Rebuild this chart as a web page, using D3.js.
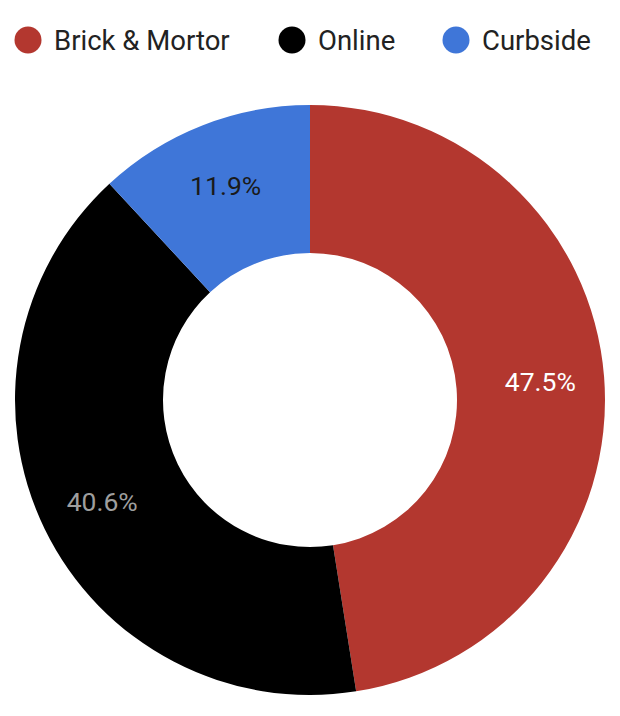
<!DOCTYPE html>
<html><head><meta charset="utf-8">
<script src="https://cdn.jsdelivr.net/npm/d3@7"></script>
<style>html,body{margin:0;padding:0;background:#fff;}</style>
</head><body>
<svg id="chart" width="620" height="716"></svg>
<script>
const categories = ["Brick & Mortor", "Online", "Curbside"];
const values = [47.5, 40.6, 11.9];
const colors = ["#b3372f", "#000000", "#3f76d8"];
const labelColors = ["#ffffff", "#9e9e9e", "#1a1a1a"];

const svg = d3.select("#chart");
const cx = 310, cy = 400, outerR = 295, innerR = 147, labelR = 231;

const pie = d3.pie().sort(null).value(d => d.value);
const data = pie(categories.map((c, i) => ({cat: c, value: values[i], i})));
const arc = d3.arc().innerRadius(innerR).outerRadius(outerR);
const labelArc = d3.arc().innerRadius(labelR).outerRadius(labelR);

const g = svg.append("g").attr("transform", `translate(${cx},${cy})`);
g.selectAll("path").data(data).enter().append("path")
  .attr("d", arc).attr("fill", d => colors[d.data.i]);

g.selectAll("text").data(data).enter().append("text")
  .attr("transform", d => `translate(${labelArc.centroid(d)})`)
  .attr("text-anchor", "middle").attr("dy", "0.36em")
  .attr("font-family", "Roboto, sans-serif").attr("font-size", 26.5)
  .attr("fill", d => labelColors[d.data.i])
  .text(d => d3.format(".1f")(d.data.value) + "%");

// legend
const legendX = [28, 292, 456];
const lg = svg.append("g");
categories.forEach((c, i) => {
  lg.append("circle").attr("cx", legendX[i]).attr("cy", 40).attr("r", 13.5).attr("fill", colors[i]);
  lg.append("text").attr("x", legendX[i] + 26).attr("y", 40).attr("dy", "0.36em")
    .attr("font-family", "Roboto, sans-serif").attr("font-size", 27.5).attr("fill", "#222")
    .text(c);
});
</script>
</body></html>
